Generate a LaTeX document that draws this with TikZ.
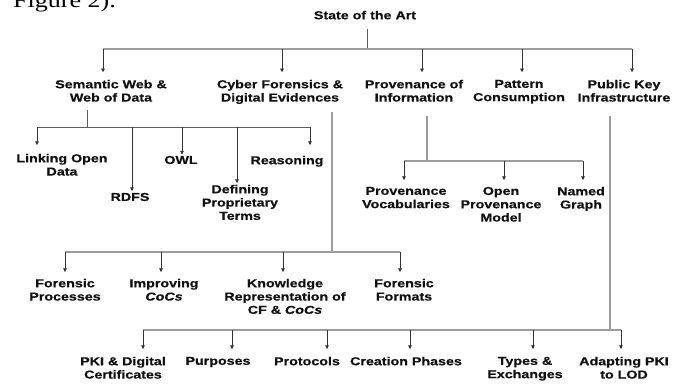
\documentclass[tikz,border=0pt]{standalone}
\usepackage{fontspec}
\usetikzlibrary{arrows.meta}
\newfontfamily\lblfont{Liberation Sans}[FakeStretch=1.24,
  BoldFeatures={FakeBold=0.5}, BoldItalicFeatures={FakeBold=0.5}]
\newfontfamily\bodyserif{Liberation Serif}[FakeStretch=1.24]
\definecolor{buscol}{HTML}{9C9C9C}
\definecolor{dropcol}{HTML}{333333}
\definecolor{txtcol}{HTML}{111111}
\tikzset{
  lbl/.style={font=\lblfont\bfseries\fontsize{11.5}{13.3}\selectfont, text=txtcol,
    align=center, inner sep=0pt, anchor=north},
  bus/.style={draw=buscol, line width=1.1pt},
  darkline/.style={draw=dropcol!80, line width=0.7pt},
  drop/.style={draw=dropcol, line width=0.6pt,
    -{Triangle[width=3.6pt,length=3.6pt]}},
}
\begin{document}
\begin{tikzpicture}[x=1pt,y=-1pt]
\useasboundingbox (0,0) rectangle (684,383);
\clip (0,0) rectangle (684,383);
\fill[white] (0,0) rectangle (684,383);

% running text of the page above the chart
\node[font=\bodyserif\fontsize{21}{21}\selectfont, anchor=base west, inner sep=0pt]
  (fig) at (13,7) {Figure 2).};

% ---- labels ----
\node[lbl] (root) at (365,10.7) {State of the Art};

\node[lbl] (sw) at (111,79.7) {Semantic Web \&\\Web of Data};
\node[lbl] (cf) at (280,79.7) {Cyber Forensics \&\\Digital Evidences};
\node[lbl] (pi) at (414,79.7) {Provenance of\\Information};
\node[lbl] (pc) at (519,79.7) {Pattern\\Consumption};
\node[lbl] (pk) at (624,79.7) {Public Key\\Infrastructure};

\node[lbl] (lod)  at (62,153.7)  {Linking Open\\Data};
\node[lbl] (rdfs) at (130,192.7) {RDFS};
\node[lbl] (owl)  at (181,155.7) {OWL};
\node[lbl] (dpt)  at (240,184.7) {Defining\\Proprietary\\Terms};
\node[lbl] (rsn)  at (287,155.7) {Reasoning};

\node[lbl] (fp)  at (65,278.7)  {Forensic\\Processes};
\node[lbl] (icc) at (164,278.7) {Improving\\\textit{CoCs}};
\node[lbl] (kr)  at (285,278.7) {Knowledge\\Representation of\\CF \& \textit{CoCs}};
\node[lbl] (ff)  at (404,278.7) {Forensic\\Formats};

\node[lbl] (pv)  at (406,186.7) {Provenance\\Vocabularies};
\node[lbl] (opm) at (501,186.7) {Open\\Provenance\\Model};
\node[lbl] (ng)  at (581,186.7) {Named\\Graph};

\node[lbl] (pkd) at (123,356.7) {PKI \& Digital\\Certificates};
\node[lbl] (pur) at (218,356.7) {Purposes};
\node[lbl] (pro) at (307,356.7) {Protocols};
\node[lbl] (crp) at (406,356.7) {Creation Phases};
\node[lbl] (tex) at (525,356.7) {Types \&\\Exchanges};
\node[lbl] (apl) at (624,356.7) {Adapting PKI\\to LOD};

% ---- junction points on the buses ----
\coordinate (rootj) at (367,49);
\coordinate (t1) at (103,49);
\coordinate (t2) at (282,49);
\coordinate (t3) at (422,49);
\coordinate (t4) at (522,49);
\coordinate (t5) at (632,49);

\coordinate (swj) at (87,127);
\coordinate (s1) at (37,127);
\coordinate (s2) at (132,127);
\coordinate (s3) at (182,127);
\coordinate (s4) at (237,127);
\coordinate (s5) at (310,127);

\coordinate (cfj) at (332,252);
\coordinate (c1) at (65,252);
\coordinate (c2) at (161,252);
\coordinate (c3) at (283,252);
\coordinate (c4) at (400,252);

\coordinate (pij) at (427,161);
\coordinate (p1) at (404,161);
\coordinate (p2) at (504,161);
\coordinate (p3) at (583,161);

\coordinate (pkj) at (610,330);
\coordinate (k1) at (143,330);
\coordinate (k2) at (232,330);
\coordinate (k3) at (327,330);
\coordinate (k4) at (410,330);
\coordinate (k5) at (533,330);
\coordinate (k6) at (621,330);

% ---- root level ----
\draw[darkline, shorten <=9pt] (rootj |- root.south) -- (rootj);
\draw[bus] (t1) -- (t5);
\foreach \j/\n in {t1/sw, t2/cf, t3/pi, t4/pc, t5/pk}
  \draw[drop, shorten >=7.5pt] (\j) -- (\j |- \n.north);

% ---- semantic web ----
\draw[darkline, shorten <=8pt] (swj |- sw.south) -- (swj);
\draw[darkline] (s1) -- (s5);
\draw[drop, shorten >=8.7pt] (s1) -- (s1 |- lod.north);
\draw[drop, shorten >=1.7pt] (s2) -- (s2 |- rdfs.north);
\draw[drop, shorten >=1.2pt] (s3) -- (s3 |- owl.north);
\draw[drop, shorten >=1.7pt] (s4) -- (s4 |- dpt.north);
\draw[drop, shorten >=10.7pt] (s5) -- (s5 |- rsn.north);

% ---- cyber forensics ----
\draw[bus, shorten <=8pt] (cfj |- cf.south) -- (cfj);
\draw[bus] (c1) -- (c4);
\foreach \j/\n in {c1/fp, c2/icc, c3/kr, c4/ff}
  \draw[drop, shorten >=6.7pt] (\j) -- (\j |- \n.north);

% ---- provenance ----
\draw[bus, shorten <=14pt] (pij |- pi.south) -- (pij);
\draw[bus] (p1) -- (p3);
\foreach \j/\n in {p1/pv, p2/opm, p3/ng}
  \draw[drop, shorten >=6.7pt] (\j) -- (\j |- \n.north);

% ---- public key infrastructure ----
\draw[bus, shorten <=14pt] (pkj |- pk.south) -- (pkj);
\draw[bus] (k1) -- (k6);
\foreach \j/\n in {k1/pkd, k2/pur, k3/pro, k4/crp, k5/tex, k6/apl}
  \draw[drop, shorten >=7.7pt] (\j) -- (\j |- \n.north);
\end{tikzpicture}
\end{document}
